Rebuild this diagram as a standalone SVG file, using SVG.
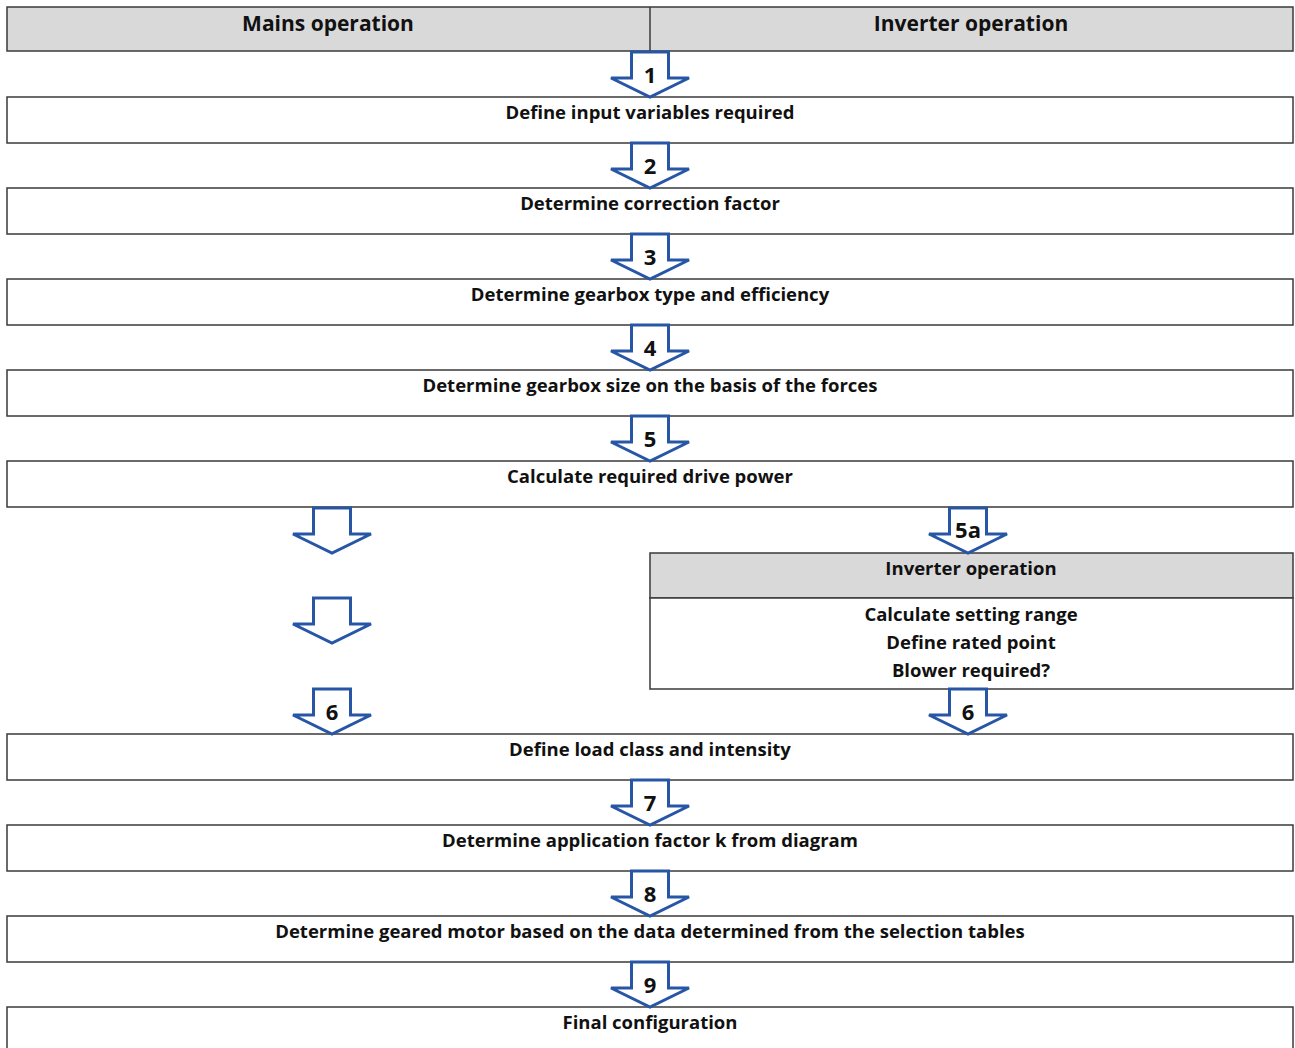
<svg xmlns="http://www.w3.org/2000/svg" width="1295" height="1048" viewBox="0 0 1295 1048">
<style>
.box{fill:#fff;stroke:#3a3a3a;stroke-width:1.5}
.hdr{fill:#d9d9d9;stroke:#3a3a3a;stroke-width:1.5}
.t{font-family:"Open Sans","Liberation Sans",sans-serif;font-weight:bold;font-size:18.5px;fill:#111;text-anchor:middle}
.h{font-size:21px}
.n{font-family:"Open Sans","Liberation Sans",sans-serif;font-weight:bold;font-size:22px;fill:#111;text-anchor:middle}
.arr{fill:#fff;stroke:#2856a6;stroke-width:3;stroke-linejoin:miter}
</style>
<defs>
<path id="a" class="arr" d="M -18.5,0 H 18.5 V 26 H 39 L 0,45 L -39,26 H -18.5 Z"/>
</defs>
<rect width="1295" height="1048" fill="#fff"/>
<g id="header">
<rect class="hdr" x="7" y="7" width="1286" height="44"/>
<line x1="650" y1="7" x2="650" y2="51" stroke="#3a3a3a" stroke-width="1.5"/>
<text class="t h" x="328" y="31">Mains operation</text>
<text class="t h" x="971" y="31">Inverter operation</text>
</g>
<g id="n1"><rect class="box" x="7" y="97" width="1286" height="46"/><text class="t" x="650" y="119">Define input variables required</text></g>
<g id="n2"><rect class="box" x="7" y="188" width="1286" height="46"/><text class="t" x="650" y="210">Determine correction factor</text></g>
<g id="n3"><rect class="box" x="7" y="279" width="1286" height="46"/><text class="t" x="650" y="301">Determine gearbox type and efficiency</text></g>
<g id="n4"><rect class="box" x="7" y="370" width="1286" height="46"/><text class="t" x="650" y="392">Determine gearbox size on the basis of the forces</text></g>
<g id="n5"><rect class="box" x="7" y="461" width="1286" height="46"/><text class="t" x="650" y="483">Calculate required drive power</text></g>
<g id="n5a">
<rect class="hdr" x="650" y="553" width="643" height="45"/>
<rect class="box" x="650" y="598" width="643" height="91"/>
<text class="t" x="971" y="575">Inverter operation</text>
<text class="t" x="971" y="621">Calculate setting range</text>
<text class="t" x="971" y="649">Define rated point</text>
<text class="t" x="971" y="677">Blower required?</text>
</g>
<g id="n6"><rect class="box" x="7" y="734" width="1286" height="46"/><text class="t" x="650" y="756">Define load class and intensity</text></g>
<g id="n7"><rect class="box" x="7" y="825" width="1286" height="46"/><text class="t" x="650" y="847">Determine application factor k from diagram</text></g>
<g id="n8"><rect class="box" x="7" y="916" width="1286" height="46"/><text class="t" x="650" y="938">Determine geared motor based on the data determined from the selection tables</text></g>
<g id="n9"><rect class="box" x="7" y="1007" width="1286" height="60"/><text class="t" x="650" y="1029">Final configuration</text></g>
<g id="connectors">
<use href="#a" x="650" y="52"/><text class="n" x="650" y="83">1</text>
<use href="#a" x="650" y="143"/><text class="n" x="650" y="174">2</text>
<use href="#a" x="650" y="234"/><text class="n" x="650" y="265">3</text>
<use href="#a" x="650" y="325"/><text class="n" x="650" y="356">4</text>
<use href="#a" x="650" y="416"/><text class="n" x="650" y="447">5</text>
<use href="#a" x="332" y="508"/>
<use href="#a" x="332" y="598"/>
<use href="#a" x="332" y="689"/><text class="n" x="332" y="720">6</text>
<use href="#a" x="968" y="508"/><text class="n" x="968" y="538">5a</text>
<use href="#a" x="968" y="689"/><text class="n" x="968" y="720">6</text>
<use href="#a" x="650" y="780"/><text class="n" x="650" y="811">7</text>
<use href="#a" x="650" y="871"/><text class="n" x="650" y="902">8</text>
<use href="#a" x="650" y="962"/><text class="n" x="650" y="993">9</text>
</g>
</svg>
